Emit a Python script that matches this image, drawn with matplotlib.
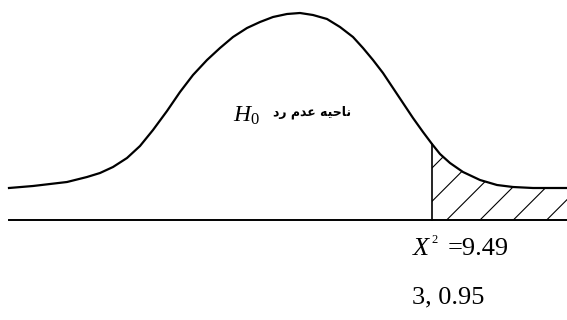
import matplotlib
matplotlib.use('Agg')
import matplotlib.pyplot as plt

plt.rcParams['mathtext.fontset'] = 'custom'
plt.rcParams['mathtext.rm'] = 'Liberation Serif'
plt.rcParams['mathtext.it'] = 'Liberation Serif:italic'
plt.rcParams['hatch.linewidth'] = 0.8

# curve: x position and height above the baseline
curve_x = [9, 33, 67, 87, 100, 113, 127, 140, 153, 167, 180, 193, 207, 220,
           233, 247, 260, 273, 287, 300, 313, 327, 340, 353, 363, 373, 383,
           393, 403, 413, 423, 432, 440, 450, 463, 480, 497, 513, 533, 567]
curve_h = [32, 34, 38, 43, 47, 53, 62, 74, 90, 109, 128, 145, 160, 172,
           183, 192, 198, 203, 206, 207, 205, 201, 193, 183, 172, 160, 147,
           132, 117, 102, 88, 76, 66, 57, 48, 40, 35, 33, 32, 32]
critical_x = 432

region_label = 'ناحیه عدم رد'
stat_label = '=9.49'
df_label = '3, 0.95'

# matplotlib has no arabic shaping, so map letters to presentation forms
FORMS = {
    'ن': '\uFEE5\uFEE6\uFEE7\uFEE8',
    'ا': '\uFE8D\uFE8E\uFE8D\uFE8E',
    'ح': '\uFEA1\uFEA2\uFEA3\uFEA4',
    'ی': '\uFBFC\uFBFD\uFBFE\uFBFF',
    'ه': '\uFEE9\uFEEA\uFEEB\uFEEC',
    'ع': '\uFEC9\uFECA\uFECB\uFECC',
    'د': '\uFEA9\uFEAA\uFEA9\uFEAA',
    'م': '\uFEE1\uFEE2\uFEE3\uFEE4',
    'ر': '\uFEAD\uFEAE\uFEAD\uFEAE',
}
RIGHT_ONLY = set('ادر')


def shape(text):
    out = []
    for i, ch in enumerate(text):
        if ch not in FORMS:
            out.append(ch)
            continue
        prev = text[i - 1] if i > 0 else ''
        nxt = text[i + 1] if i + 1 < len(text) else ''
        join_prev = prev in FORMS and prev not in RIGHT_ONLY
        join_next = ch not in RIGHT_ONLY and nxt in FORMS
        idx = {(False, False): 0, (True, False): 1,
               (False, True): 2, (True, True): 3}[(join_prev, join_next)]
        out.append(FORMS[ch][idx])
    return ''.join(reversed(out))


baseline = 220
curve_y = [baseline - h for h in curve_h]

fig = plt.figure(figsize=(5.67, 3.2), dpi=100)
ax = fig.add_axes([0, 0, 1, 1])
ax.set_xlim(0, 567)
ax.set_ylim(320, 0)
ax.axis('off')

ax.plot(curve_x, curve_y, color='black', lw=1.6, solid_joinstyle='round')
ax.plot([9, 567], [baseline, baseline], color='black', lw=1.4)

# critical value line and hatched rejection tail
tail_x = [x for x in curve_x if x >= critical_x]
tail_y = [y for x, y in zip(curve_x, curve_y) if x >= critical_x]
ax.plot([critical_x, critical_x], [baseline, tail_y[0]], color='black', lw=1.2)
ax.fill_between(tail_x, tail_y, baseline,
                facecolor='none', edgecolor='black', hatch='/', lw=0)

ax.text(233, 115, r'$H_{0}$', fontsize=17, ha='left', va='center')
ax.text(273, 112, shape(region_label), fontsize=9, fontweight='bold',
        family='DejaVu Sans', ha='left', va='center')

# X^2 with a small raised 2, as in the scan
ax.text(413, 249, 'X', fontsize=19, style='italic', ha='left', va='center',
        family='Liberation Serif')
ax.text(431, 240, '2', fontsize=9, ha='left', va='center',
        family='Liberation Serif')
ax.text(448, 249, stat_label, fontsize=19, ha='left', va='center',
        family='Liberation Serif')
ax.text(412, 297, df_label, fontsize=19, ha='left', va='center',
        family='Liberation Serif')

fig.savefig('out.png', dpi=100)
